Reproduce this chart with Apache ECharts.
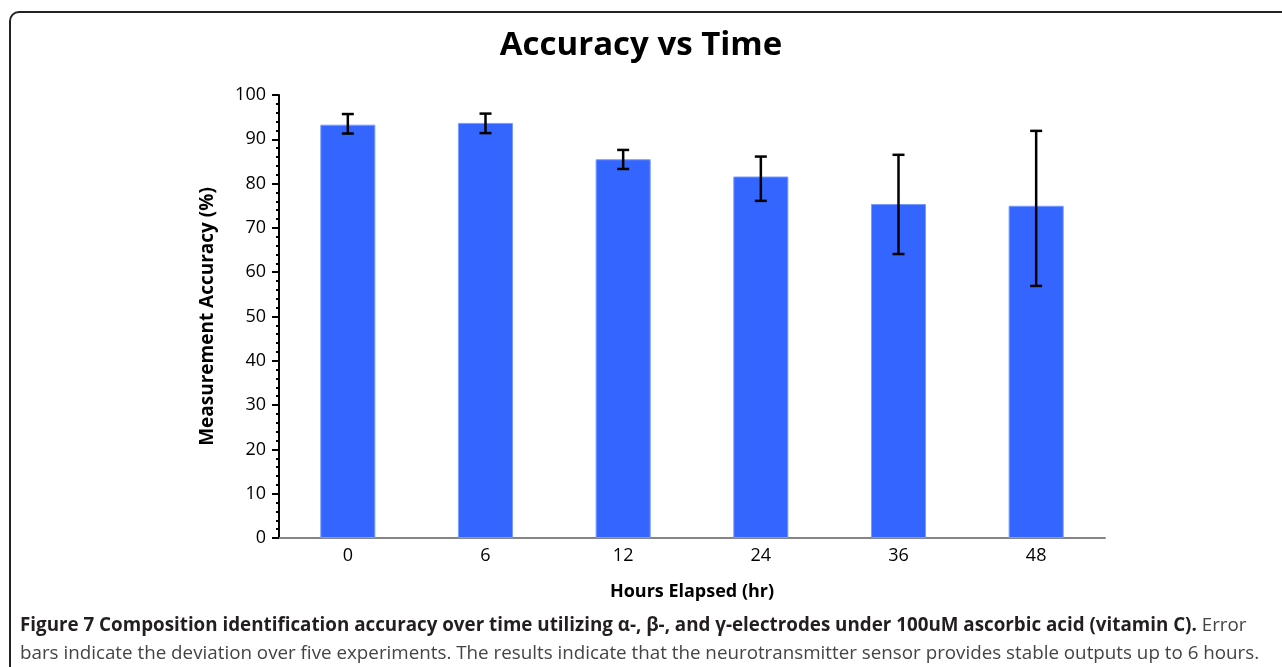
<!DOCTYPE html>
<html>
<head>
<meta charset="utf-8">
<script src="https://cdn.jsdelivr.net/npm/echarts@6/dist/echarts.min.js"></script>
<style>
html,body{margin:0;padding:0;background:#fff;}
#frame{position:absolute;left:9px;top:11px;width:1320px;height:720px;border:2px solid #222;border-radius:10px;box-sizing:border-box;}
#chart{position:absolute;left:0;top:0;width:1282px;height:667px;}
</style>
</head>
<body>
<div id="frame"></div>
<div id="chart"></div>
<script>
const categories = ['0', '6', '12', '24', '36', '48'];
const accuracy = [93.3, 93.7, 85.5, 81.6, 75.4, 75.0];
const errLow = [91.3, 91.4, 83.3, 76.1, 64.1, 56.9];
const errHigh = [95.7, 95.8, 87.6, 86.1, 86.5, 91.9];
const yTicks = { min: 0, max: 100, interval: 10 };

const font = '"Open Sans", "Noto Sans", sans-serif';
const chart = echarts.init(document.getElementById('chart'));

const errData = categories.map((c, i) => [i, errLow[i], errHigh[i]]);

chart.setOption({
  animation: false,
  backgroundColor: 'transparent',
  title: {
    text: 'Accuracy vs Time',
    left: 'center',
    top: 24,
    textStyle: { fontFamily: font, fontWeight: 'bold', fontSize: 33, color: '#000' }
  },
  grid: { left: 279, right: 177, top: 95, bottom: 129, containLabel: false },
  xAxis: {
    type: 'category',
    data: categories,
    name: 'Hours Elapsed (hr)',
    nameLocation: 'middle',
    nameGap: 45,
    nameTextStyle: { fontFamily: font, fontWeight: 'bold', fontSize: 18, color: '#000' },
    axisLine: { lineStyle: { color: '#858585', width: 2 } },
    axisTick: { show: false },
    axisLabel: { fontFamily: font, fontSize: 18, color: '#000', margin: 9 }
  },
  yAxis: {
    type: 'value',
    min: yTicks.min,
    max: yTicks.max,
    interval: yTicks.interval,
    name: 'Measurement Accuracy (%)',
    nameLocation: 'middle',
    nameGap: 62,
    nameTextStyle: { fontFamily: font, fontWeight: 'bold', fontSize: 19, color: '#000' },
    axisLine: { show: true, lineStyle: { color: '#000', width: 2 } },
    axisTick: { show: true, length: 7, lineStyle: { color: '#000', width: 2 } },
    minorTick: { show: true, splitNumber: 5, length: 3, lineStyle: { color: '#000', width: 2 } },
    splitLine: { show: false },
    axisLabel: { fontFamily: font, fontSize: 18, color: '#000', margin: 13 }
  },
  series: [
    {
      type: 'bar',
      data: accuracy,
      barWidth: '40%',
      itemStyle: { color: '#3465ff', borderColor: '#7a9cff', borderWidth: 1 },
      z: 2
    },
    {
      type: 'custom',
      data: errData,
      z: 5,
      renderItem: function (params, api) {
        const x = api.value(0);
        const lo = api.coord([x, api.value(1)]);
        const hi = api.coord([x, api.value(2)]);
        const hw = 6;
        const st = { stroke: '#000', lineWidth: 2.5 };
        return {
          type: 'group',
          children: [
            { type: 'line', shape: { x1: lo[0], y1: lo[1], x2: hi[0], y2: hi[1] }, style: st },
            { type: 'line', shape: { x1: lo[0] - hw, y1: lo[1], x2: lo[0] + hw, y2: lo[1] }, style: st },
            { type: 'line', shape: { x1: hi[0] - hw, y1: hi[1], x2: hi[0] + hw, y2: hi[1] }, style: st }
          ]
        };
      }
    }
  ],
  graphic: [
    {
      type: 'text',
      left: 20,
      top: 616,
      style: {
        text: '{b|Figure 7 Composition identification accuracy over time utilizing α-, β-, and γ-electrodes under 100uM ascorbic acid (vitamin C).}{r| Error}',
        rich: {
          b: { fontFamily: font, fontWeight: 'bold', fontSize: 18.8, fill: '#231f20' },
          r: { fontFamily: font, fontSize: 18.8, fill: '#444' }
        }
      }
    },
    {
      type: 'text',
      left: 20,
      top: 644,
      style: {
        text: 'bars indicate the deviation over five experiments. The results indicate that the neurotransmitter sensor provides stable outputs up to 6 hours.',
        fontFamily: font, fontSize: 18.8, fill: '#444'
      }
    }
  ]
});
</script>
</body>
</html>
